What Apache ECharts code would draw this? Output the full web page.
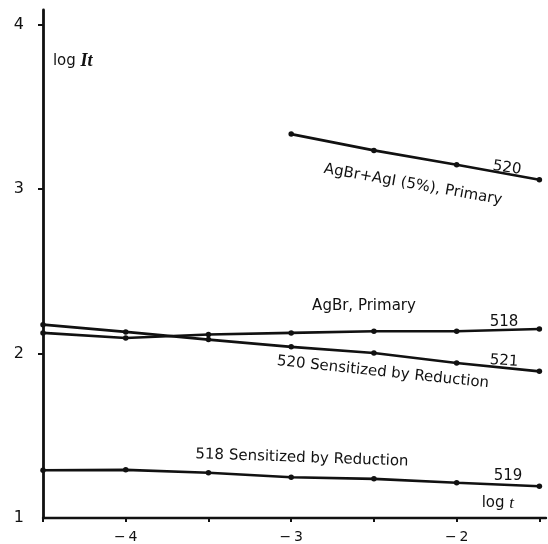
<!DOCTYPE html>
<html>
<head>
<meta charset="utf-8">
<script src="https://cdn.jsdelivr.net/npm/echarts@6/dist/echarts.min.js"></script>
<style>
  html, body { margin: 0; padding: 0; background: #fff; }
  #chart { width: 548px; height: 544px; }
</style>
</head>
<body>
<div id="chart"></div>
<script>
// exposure time (log t) at which each emulsion was measured
const logT = [-4.5, -4, -3.5, -3, -2.5, -2, -1.5];
const logT520 = [-3, -2.5, -2, -1.5];

// log It for each emulsion
const emulsion518 = [2.126, 2.095, 2.116, 2.126, 2.136, 2.136, 2.150];
const emulsion521 = [2.176, 2.132, 2.085, 2.041, 2.004, 1.943, 1.892];
const emulsion519 = [1.290, 1.293, 1.275, 1.248, 1.238, 1.214, 1.193];
const emulsion520 = [3.335, 3.236, 3.149, 3.058];

// axis ticks and labels
const xTickValues = [-4.5, -4, -3.5, -3, -2.5, -2, -1.5];
const xLabelValues = [-4, -3, -2];
const yTickValues = [2, 3, 4];
const yLabelValues = [1, 2, 3, 4];

// curve annotations: text, anchor in data units, rotation in degrees
const notes = [
  { text: '520', x: -1.696, y: 3.129, rotate: -8 },
  { text: 'AgBr+AgI (5%), Primary', x: -2.264, y: 3.028, rotate: -10 },
  { text: 'AgBr, Primary', x: -2.56, y: 2.290, rotate: 0 },
  { text: '518', x: -1.714, y: 2.192, rotate: 0 },
  { text: '521', x: -1.714, y: 1.955, rotate: -4 },
  { text: '520 Sensitized by Reduction', x: -2.446, y: 1.886, rotate: -6 },
  { text: '518 Sensitized by Reduction', x: -2.935, y: 1.365, rotate: -2 },
  { text: '519', x: -1.690, y: 1.255, rotate: 0 }
];

const pair = (xs, ys) => xs.map((x, i) => [x, ys[i]]);
const INK = '#111';
const FONT = 'DejaVu Sans';

function curve(name, data) {
  return {
    name: name,
    type: 'line',
    data: data,
    symbol: 'circle',
    symbolSize: 5.5,
    showSymbol: true,
    lineStyle: { color: INK, width: 2.6 },
    itemStyle: { color: INK },
    emphasis: { disabled: true },
    silent: true,
    z: 5
  };
}

const chart = echarts.init(document.getElementById('chart'), null, { renderer: 'canvas' });

chart.setOption({
  animation: false,
  backgroundColor: '#fff',
  grid: { left: 43, right: 2, top: 10, bottom: 26, containLabel: false },
  xAxis: {
    type: 'value',
    min: -4.5,
    max: -1.46,
    splitLine: { show: false },
    axisLine: { show: true, onZero: false, lineStyle: { color: INK, width: 2.4 } },
    axisTick: { show: true, inside: false, length: 4, customValues: xTickValues, lineStyle: { color: INK, width: 2 } },
    axisLabel: {
      customValues: xLabelValues,
      margin: 12,
      color: INK,
      fontFamily: FONT,
      fontSize: 14,
      formatter: v => (v < 0 ? '\u2212\u2009' + Math.abs(v) : String(v))
    }
  },
  yAxis: {
    type: 'value',
    min: 1,
    max: 4.09,
    splitLine: { show: false },
    axisLine: { show: true, onZero: false, lineStyle: { color: INK, width: 2.8 } },
    axisTick: { show: true, inside: false, length: 5, customValues: yTickValues, lineStyle: { color: INK, width: 2 } },
    axisLabel: {
      customValues: yLabelValues,
      margin: 19,
      color: INK,
      fontFamily: FONT,
      fontSize: 16
    }
  },
  series: [
    curve('520', pair(logT520, emulsion520)),
    curve('518', pair(logT, emulsion518)),
    curve('521', pair(logT, emulsion521)),
    curve('519', pair(logT, emulsion519))
  ]
});

// place the text annotations from data coordinates
const graphics = notes.map(n => {
  const p = chart.convertToPixel({ gridIndex: 0 }, [n.x, n.y]);
  return {
    type: 'text',
    x: p[0],
    y: p[1],
    rotation: n.rotate * Math.PI / 180,
    silent: true,
    style: {
      text: n.text,
      fill: INK,
      font: '15px "' + FONT + '"',
      textAlign: 'center',
      textVerticalAlign: 'middle'
    }
  };
});

// axis titles
const yTitle = chart.convertToPixel({ gridIndex: 0 }, [-4.44, 3.78]);
graphics.push({
  type: 'text',
  x: yTitle[0],
  y: yTitle[1],
  silent: true,
  style: {
    text: '{a|log }{b|It}',
    textAlign: 'left',
    textVerticalAlign: 'middle',
    rich: {
      a: { fontFamily: FONT, fontSize: 15, fill: INK },
      b: { fontFamily: 'Liberation Serif', fontSize: 18, fontWeight: 'bold', fontStyle: 'italic', fill: INK }
    }
  }
});
const xTitle = chart.convertToPixel({ gridIndex: 0 }, [-1.751, 1.091]);
graphics.push({
  type: 'text',
  x: xTitle[0],
  y: xTitle[1],
  silent: true,
  style: {
    text: '{a|log }{b|t}',
    textAlign: 'center',
    textVerticalAlign: 'middle',
    rich: {
      a: { fontFamily: FONT, fontSize: 15, fill: INK },
      b: { fontFamily: 'Liberation Serif', fontSize: 17, fontStyle: 'italic', fill: INK }
    }
  }
});

chart.setOption({ graphic: graphics });
</script>
</body>
</html>
